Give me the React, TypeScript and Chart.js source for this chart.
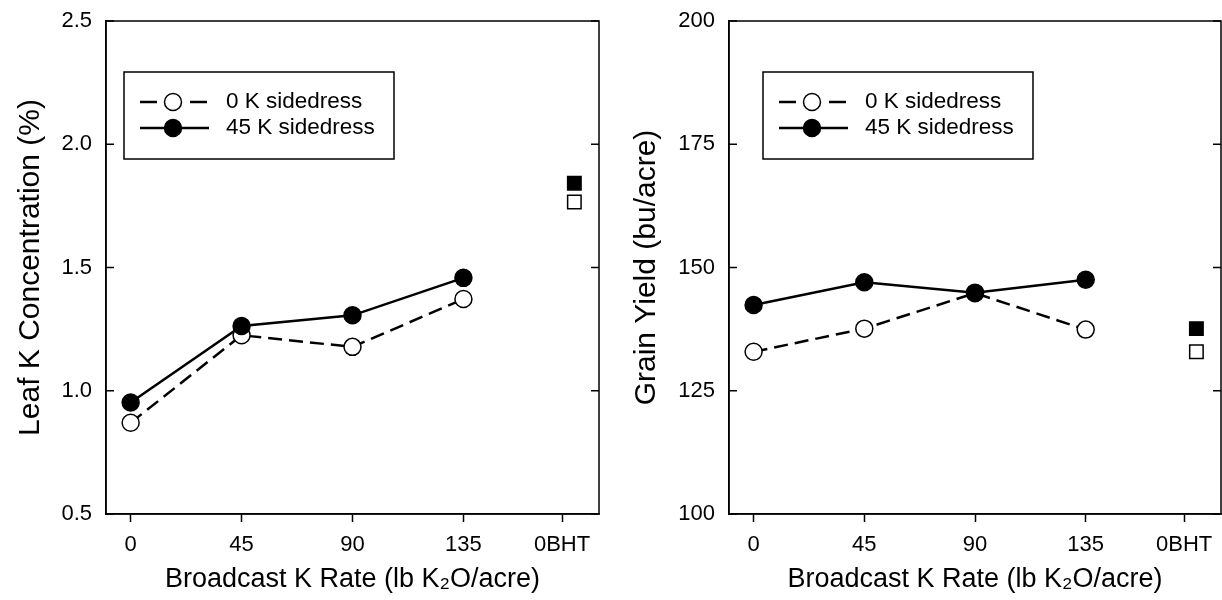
import React, { useEffect, useRef } from "react";
import { Chart, registerables } from "chart.js";

Chart.register(...registerables);

// ---------- data ----------
const xRates = [0, 45, 90, 135];
const xTickValues = [0, 45, 90, 135, 175];
const xTickLabels = ["0", "45", "90", "135", "0BHT"];
const bhtX = 180;
const seriesLabels = ["0 K sidedress", "45 K sidedress"];

const leafOpen = [0.87, 1.225, 1.178, 1.372];
const leafFilled = [0.952, 1.263, 1.306, 1.458];
const leafBhtOpen = [1.766];
const leafBhtFilled = [1.842];
const leafTicks = [0.5, 1.0, 1.5, 2.0, 2.5];

const yieldOpen = [132.9, 137.6, 144.8, 137.4];
const yieldFilled = [142.4, 147.0, 144.9, 147.5];
const yieldBhtOpen = [132.9];
const yieldBhtFilled = [137.6];
const yieldTicks = [100, 125, 150, 175, 200];

const FONT = "'Liberation Sans', Arial, Helvetica, sans-serif";

// ---------- plugins ----------
const framePlugin = {
  id: "frameTicks",
  afterDatasetsDraw(chart: any) {
    const { ctx, chartArea } = chart;
    const ys = chart.scales.y;
    ctx.save();
    ctx.strokeStyle = "#000";
    ctx.lineWidth = 1.5;
    ctx.setLineDash([]);
    ctx.strokeRect(chartArea.left, chartArea.top, chartArea.right - chartArea.left, chartArea.bottom - chartArea.top);
    ys.ticks.forEach((t: any) => {
      const py = ys.getPixelForValue(t.value);
      ctx.beginPath();
      ctx.moveTo(chartArea.left, py);
      ctx.lineTo(chartArea.left + 8, py);
      ctx.moveTo(chartArea.right, py);
      ctx.lineTo(chartArea.right - 8, py);
      ctx.stroke();
    });
    ctx.restore();
  },
};

const legendPlugin = {
  id: "boxLegend",
  afterDraw(chart: any, _args: any, opts: any) {
    const { ctx } = chart;
    const { x, y, w, h, items } = opts;
    if (!items) return;
    ctx.save();
    ctx.fillStyle = "#fff";
    ctx.fillRect(x, y, w, h);
    ctx.strokeStyle = "#000";
    ctx.lineWidth = 1.5;
    ctx.setLineDash([]);
    ctx.strokeRect(x, y, w, h);
    items.forEach((idx: number, i: number) => {
      const ds: any = chart.data.datasets[idx];
      const cy = y + 30 + i * 26;
      const cx = x + 49;
      ctx.strokeStyle = "#000";
      ctx.lineWidth = ds.borderWidth;
      ctx.beginPath();
      if (ds.borderDash && ds.borderDash.length) {
        ctx.moveTo(x + 16, cy);
        ctx.lineTo(x + 33, cy);
        ctx.moveTo(x + 66, cy);
        ctx.lineTo(x + 83, cy);
      } else {
        ctx.moveTo(x + 16, cy);
        ctx.lineTo(x + 85, cy);
      }
      ctx.stroke();
      ctx.beginPath();
      ctx.arc(cx, cy, ds.pointRadius, 0, Math.PI * 2);
      ctx.fillStyle = ds.pointBackgroundColor;
      ctx.fill();
      ctx.lineWidth = ds.pointBorderWidth;
      ctx.stroke();
      ctx.fillStyle = "#000";
      ctx.font = `22.5px ${FONT}`;
      ctx.textBaseline = "middle";
      ctx.textAlign = "left";
      ctx.fillText(ds.label, x + 102, cy);
    });
    ctx.restore();
  },
};

type Panel = {
  open: number[];
  filled: number[];
  bhtOpen: number[];
  bhtFilled: number[];
  yTicks: number[];
  yTitle: string;
  fmt: (v: number) => string;
  yAxisWidth: number;
  padRight: number;
  titlePad: number;
  legendX: number;
};

function lineDs(label: string, vals: number[], filled: boolean) {
  return {
    label,
    data: xRates.map((x, i) => ({ x, y: vals[i] })),
    showLine: true,
    borderColor: "#000",
    backgroundColor: filled ? "#000" : "#fff",
    borderWidth: 2.5,
    borderDash: filled ? [] : [14, 7],
    pointStyle: "circle",
    pointRadius: 8.5,
    pointHoverRadius: 8.5,
    pointBackgroundColor: filled ? "#000" : "#fff",
    pointBorderColor: "#000",
    pointBorderWidth: 1.5,
  };
}

function squareDs(label: string, vals: number[], filled: boolean) {
  return {
    label,
    data: vals.map((v) => ({ x: bhtX, y: v })),
    showLine: false,
    pointStyle: "rect",
    pointRadius: 9.5,
    pointHoverRadius: 9.5,
    pointBackgroundColor: filled ? "#000" : "#fff",
    pointBorderColor: "#000",
    pointBorderWidth: 1.5,
    borderColor: "#000",
    backgroundColor: filled ? "#000" : "#fff",
  };
}

function ChartPanel({ p }: { p: Panel }) {
  const ref = useRef<HTMLCanvasElement>(null);
  useEffect(() => {
    if (!ref.current) return;
    const chart = new Chart(ref.current, {
      type: "scatter",
      data: {
        datasets: [
          lineDs(seriesLabels[1], p.filled, true),
          lineDs(seriesLabels[0], p.open, false),
          squareDs("0BHT 45 K", p.bhtFilled, true),
          squareDs("0BHT 0 K", p.bhtOpen, false),
        ] as any,
      },
      options: {
        animation: false,
        responsive: false,
        maintainAspectRatio: false,
        devicePixelRatio: 1,
        layout: { autoPadding: false, padding: { top: 21, right: p.padRight, left: 0, bottom: 0 } },
        plugins: {
          legend: { display: false },
          tooltip: { enabled: false },
          boxLegend: { x: p.legendX, y: 72, w: 270, h: 87, items: [1, 0] },
        } as any,
        scales: {
          x: {
            type: "linear",
            min: -10,
            max: 190,
            afterBuildTicks: (s: any) => {
              s.ticks = xTickValues.map((v) => ({ value: v }));
            },
            afterFit: (s: any) => {
              s.height = 86;
              s.paddingLeft = 0;
              s.paddingRight = 0;
            },
            ticks: {
              color: "#000",
              font: { family: FONT, size: 22 },
              padding: 10,
              maxRotation: 0,
              autoSkip: false,
              callback: (v: any) => {
                const i = xTickValues.indexOf(Number(v));
                return i >= 0 ? xTickLabels[i] : "";
              },
            },
            grid: {
              display: true,
              drawOnChartArea: false,
              drawTicks: true,
              tickLength: 8,
              tickWidth: 1.5,
              tickColor: "#000",
              color: "#000",
            },
            border: { display: true, color: "#000", width: 1.5 },
            title: {
              display: true,
              text: "Broadcast K Rate (lb K\u2082O/acre)",
              color: "#000",
              font: { family: FONT, size: 27 },
              padding: { top: 0, bottom: 4 },
            },
          },
          y: {
            type: "linear",
            min: p.yTicks[0],
            max: p.yTicks[p.yTicks.length - 1],
            afterBuildTicks: (s: any) => {
              s.ticks = p.yTicks.map((v) => ({ value: v }));
            },
            afterFit: (s: any) => {
              s.width = p.yAxisWidth;
              s.paddingTop = 0;
              s.paddingBottom = 0;
            },
            ticks: {
              color: "#000",
              font: { family: FONT, size: 22 },
              padding: 14,
              callback: (v: any) => p.fmt(Number(v)),
            },
            grid: { display: false, drawTicks: false },
            border: { display: true, color: "#000", width: 1.5 },
            title: {
              display: true,
              text: p.yTitle,
              color: "#000",
              font: { family: FONT, size: 30 },
              padding: { top: p.titlePad, bottom: 0 },
            },
          },
        },
      } as any,
      plugins: [framePlugin, legendPlugin],
    });
    return () => chart.destroy();
  }, [p]);
  return <canvas ref={ref} width={611} height={600} style={{ display: "block", width: 611, height: 600 }} />;
}

const leftPanel: Panel = {
  open: leafOpen,
  filled: leafFilled,
  bhtOpen: leafBhtOpen,
  bhtFilled: leafBhtFilled,
  yTicks: leafTicks,
  yTitle: "Leaf K Concentration (%)",
  fmt: (v) => v.toFixed(1),
  yAxisWidth: 106,
  padRight: 12,
  titlePad: 13,
  legendX: 124,
};

const rightPanel: Panel = {
  open: yieldOpen,
  filled: yieldFilled,
  bhtOpen: yieldBhtOpen,
  bhtFilled: yieldBhtFilled,
  yTicks: yieldTicks,
  yTitle: "Grain Yield (bu/acre)",
  fmt: (v) => String(Math.round(v)),
  yAxisWidth: 118,
  padRight: 1,
  titlePad: 18,
  legendX: 152,
};

export default function App() {
  useEffect(() => {
    document.body.style.margin = "0";
    document.body.style.background = "#fff";
  }, []);
  return (
    <div style={{ display: "flex", width: 1222, height: 600, background: "#fff", margin: 0 }}>
      <ChartPanel p={leftPanel} />
      <ChartPanel p={rightPanel} />
    </div>
  );
}
